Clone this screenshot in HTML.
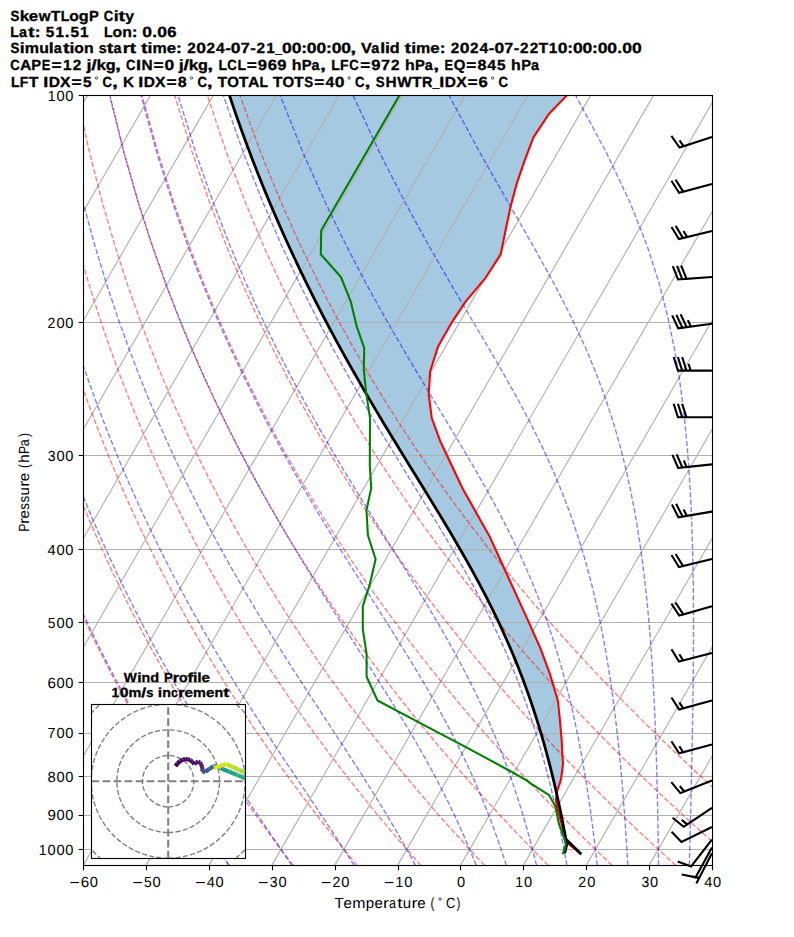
<!DOCTYPE html><html><head><meta charset="utf-8"><style>html,body{margin:0;padding:0;background:#fff;}svg{display:block;}text{font-family:"Liberation Sans",sans-serif;}</style></head><body>
<svg width="794" height="937" viewBox="0 0 794 937">
<rect width="794" height="937" fill="#fff"/>
<defs><clipPath id="ax"><rect x="83.15" y="95.37" width="628.8" height="770"/></clipPath></defs>
<g clip-path="url(#ax)">
<polygon points="229.56,95.62 234.55,110.37 239.08,123.37 243.67,136.12 248.38,148.87 253.23,161.62 258.22,174.37 263.35,187.12 268.72,200.12 274.13,212.87 279.67,225.62 285.37,238.37 291.2,251.12 297.18,263.87 303.31,276.62 309.58,289.37 316.12,302.37 326.08,321.62 332.73,334.12 339.64,346.87 350.48,366.37 357.59,378.87 364.96,391.62 376.31,410.87 387.87,430.12 399.6,449.37 430.96,500.37 442.5,519.37 453.95,538.62 461.5,551.62 468.59,564.12 472.2,570.62 479.11,583.37 482.55,589.87 488.98,602.37 492.22,608.87 498.51,621.87 504.29,634.37 507.19,640.87 510.02,647.37 515.36,660.12 520.43,672.87 522.92,679.37 527.59,692.12 532.01,704.87 536.19,717.62 538.22,724.12 542.05,736.87 545.66,749.62 549.07,762.37 550.73,768.87 553.85,781.62 556.74,794.12 556.76,794.12 557.33,790.62 560.79,780.12 562.28,770.12 563,763.12 562.31,754.37 561.71,740.62 559.81,719.12 557.91,700.87 552.51,682.62 549.52,672.87 540.4,648.37 528.39,621.37 489.91,537.12 462.66,488.62 439.97,440.62 431.68,417.87 428.71,393.62 430.23,371.12 438.07,346.37 452.29,321.62 465.79,301.37 485.54,277.87 500.71,254.37 505.48,230.62 510.71,205.87 516.65,183.87 524.48,160.87 533.42,137.37 548.92,113.87 566.68,95.62" fill="#1f77b4" fill-opacity="0.4" stroke="none"/>
<path d="M-357.01 865.37L87.55 95.37M-294.13 865.37L150.43 95.37M-231.25 865.37L213.31 95.37M-168.37 865.37L276.19 95.37M-105.49 865.37L339.07 95.37M-42.61 865.37L401.95 95.37M20.27 865.37L464.83 95.37M83.15 865.37L527.71 95.37M146.03 865.37L590.59 95.37M208.91 865.37L653.47 95.37M271.79 865.37L716.35 95.37M334.67 865.37L779.23 95.37M397.55 865.37L842.11 95.37M460.43 865.37L904.99 95.37M523.31 865.37L967.87 95.37M586.19 865.37L1030.75 95.37M649.07 865.37L1093.63 95.37M711.95 865.37L1156.51 95.37M83.15 95.5H711.95M83.15 322.5H711.95M83.15 455.5H711.95M83.15 549.5H711.95M83.15 622.5H711.95M83.15 682.5H711.95M83.15 733.5H711.95M83.15 776.5H711.95M83.15 815.5H711.95M83.15 849.5H711.95" stroke="#b0b0b0" stroke-width="1.11" fill="none"/>
<g fill="none" stroke="#ff0000" stroke-opacity="0.5" stroke-width="1.39" stroke-dasharray="5.139 2.222"><polyline points="229.49,865.37 225.12,859.27 220.71,853.05 216.25,846.71 211.76,840.24 207.22,833.65 202.64,826.92 198.02,820.05 193.35,813.03 188.63,805.86 183.86,798.52 179.04,791.02 174.17,783.35 169.25,775.48 164.28,767.43 159.25,759.17 154.16,750.7 149.01,742 143.8,733.07 138.54,723.89 133.2,714.44 127.8,704.71 122.34,694.68 116.8,684.33 111.19,673.65 105.51,662.61 99.75,651.18 93.91,639.34 87.99,627.05 81.98,614.29 75.89,601.01 69.72,587.16 63.44,572.71 57.08,557.59 50.62,541.73 44.06,525.07 37.41,507.51 30.65,488.96 23.79,469.3 16.84,448.38 9.79,426.03 2.65,402.04 -4.56,376.16 -11.83,348.05 -19.14,317.3 -26.43,283.37 -33.65,245.5 -40.67,202.68 -47.31,153.4 -53.24,95.37"/><polyline points="293.25,865.37 288.54,859.27 283.79,853.05 278.99,846.71 274.14,840.24 269.25,833.65 264.3,826.92 259.31,820.05 254.26,813.03 249.16,805.86 244.01,798.52 238.8,791.02 233.53,783.35 228.2,775.48 222.82,767.43 217.37,759.17 211.85,750.7 206.27,742 200.62,733.07 194.89,723.89 189.1,714.44 183.23,704.71 177.28,694.68 171.25,684.33 165.13,673.65 158.93,662.61 152.64,651.18 146.26,639.34 139.78,627.05 133.2,614.29 126.52,601.01 119.74,587.16 112.84,572.71 105.83,557.59 98.7,541.73 91.45,525.07 84.07,507.51 76.56,488.96 68.93,469.3 61.16,448.38 53.25,426.03 45.21,402.04 37.05,376.16 28.77,348.05 20.39,317.3 11.94,283.37 3.48,245.5 -4.9,202.68 -13.05,153.4 -20.67,95.37"/><polyline points="357.02,865.37 351.97,859.27 346.87,853.05 341.72,846.71 336.52,840.24 331.27,833.65 325.96,826.92 320.6,820.05 315.18,813.03 309.7,805.86 304.16,798.52 298.56,791.02 292.89,783.35 287.16,775.48 281.36,767.43 275.49,759.17 269.54,750.7 263.52,742 257.43,733.07 251.25,723.89 244.99,714.44 238.65,704.71 232.22,694.68 225.69,684.33 219.07,673.65 212.36,662.61 205.54,651.18 198.61,639.34 191.57,627.05 184.42,614.29 177.15,601.01 169.76,587.16 162.23,572.71 154.57,557.59 146.77,541.73 138.83,525.07 130.73,507.51 122.48,488.96 114.06,469.3 105.47,448.38 96.71,426.03 87.77,402.04 78.66,376.16 69.37,348.05 59.91,317.3 50.31,283.37 40.61,245.5 30.86,202.68 21.21,153.4 11.9,95.37"/><polyline points="420.78,865.37 415.39,859.27 409.95,853.05 404.45,846.71 398.9,840.24 393.29,833.65 387.62,826.92 381.89,820.05 376.09,813.03 370.24,805.86 364.31,798.52 358.31,791.02 352.25,783.35 346.11,775.48 339.9,767.43 333.61,759.17 327.23,750.7 320.78,742 314.24,733.07 307.61,723.89 300.89,714.44 294.07,704.71 287.16,694.68 280.14,684.33 273.01,673.65 265.78,662.61 258.43,651.18 250.96,639.34 243.37,627.05 235.64,614.29 227.78,601.01 219.78,587.16 211.63,572.71 203.32,557.59 194.85,541.73 186.21,525.07 177.39,507.51 168.39,488.96 159.19,469.3 149.79,448.38 140.17,426.03 130.33,402.04 120.27,376.16 109.97,348.05 99.44,317.3 88.69,283.37 77.73,245.5 66.63,202.68 55.47,153.4 44.46,95.37"/><polyline points="484.54,865.37 478.81,859.27 473.03,853.05 467.19,846.71 461.28,840.24 455.31,833.65 449.28,826.92 443.18,820.05 437.01,813.03 430.77,805.86 424.46,798.52 418.07,791.02 411.61,783.35 405.06,775.48 398.44,767.43 391.73,759.17 384.93,750.7 378.03,742 371.05,733.07 363.97,723.89 356.78,714.44 349.49,704.71 342.1,694.68 334.58,684.33 326.96,673.65 319.2,662.61 311.32,651.18 303.31,639.34 295.16,627.05 286.86,614.29 278.41,601.01 269.8,587.16 261.02,572.71 252.07,557.59 242.93,541.73 233.59,525.07 224.06,507.51 214.3,488.96 204.32,469.3 194.1,448.38 183.63,426.03 172.89,402.04 161.88,376.16 150.57,348.05 138.97,317.3 127.06,283.37 114.86,245.5 102.39,202.68 89.73,153.4 77.03,95.37"/><polyline points="548.3,865.37 542.24,859.27 536.11,853.05 529.92,846.71 523.66,840.24 517.33,833.65 510.94,826.92 504.47,820.05 497.93,813.03 491.31,805.86 484.61,798.52 477.83,791.02 470.97,783.35 464.02,775.48 456.98,767.43 449.85,759.17 442.62,750.7 435.29,742 427.86,733.07 420.33,723.89 412.68,714.44 404.92,704.71 397.04,694.68 389.03,684.33 380.9,673.65 372.63,662.61 364.22,651.18 355.66,639.34 346.95,627.05 338.08,614.29 329.04,601.01 319.82,587.16 310.41,572.71 300.81,557.59 291,541.73 280.98,525.07 270.72,507.51 260.22,488.96 249.46,469.3 238.42,448.38 227.09,426.03 215.45,402.04 203.49,376.16 191.17,348.05 178.49,317.3 165.43,283.37 151.99,245.5 138.16,202.68 123.99,153.4 109.6,95.37"/><polyline points="612.07,865.37 605.66,859.27 599.19,853.05 592.65,846.71 586.04,840.24 579.36,833.65 572.6,826.92 565.76,820.05 558.84,813.03 551.84,805.86 544.76,798.52 537.59,791.02 530.33,783.35 522.97,775.48 515.52,767.43 507.97,759.17 500.31,750.7 492.55,742 484.67,733.07 476.68,723.89 468.57,714.44 460.34,704.71 451.98,694.68 443.48,684.33 434.84,673.65 426.05,662.61 417.11,651.18 408.01,639.34 398.74,627.05 389.3,614.29 379.66,601.01 369.84,587.16 359.81,572.71 349.56,557.59 339.08,541.73 328.36,525.07 317.38,507.51 306.13,488.96 294.59,469.3 282.74,448.38 270.55,426.03 258.01,402.04 245.1,376.16 231.78,348.05 218.02,317.3 203.81,283.37 189.11,245.5 173.92,202.68 158.25,153.4 142.17,95.37"/><polyline points="675.83,865.37 669.09,859.27 662.27,853.05 655.39,846.71 648.42,840.24 641.38,833.65 634.26,826.92 627.05,820.05 619.76,813.03 612.38,805.86 604.91,798.52 597.35,791.02 589.68,783.35 581.92,775.48 574.06,767.43 566.09,759.17 558,750.7 549.8,742 541.48,733.07 533.04,723.89 524.47,714.44 515.76,704.71 506.92,694.68 497.92,684.33 488.78,673.65 479.48,662.61 470.01,651.18 460.36,639.34 450.53,627.05 440.51,614.29 430.29,601.01 419.86,587.16 409.2,572.71 398.3,557.59 387.16,541.73 375.74,525.07 364.04,507.51 352.04,488.96 339.72,469.3 327.05,448.38 314.01,426.03 300.57,402.04 286.71,376.16 272.38,348.05 257.55,317.3 242.18,283.37 226.24,245.5 209.69,202.68 192.51,153.4 174.74,95.37"/><polyline points="739.59,865.37 732.51,859.27 725.35,853.05 718.12,846.71 710.8,840.24 703.4,833.65 695.92,826.92 688.34,820.05 680.68,813.03 672.92,805.86 665.06,798.52 657.1,791.02 649.04,783.35 640.88,775.48 632.6,767.43 624.21,759.17 615.69,750.7 607.06,742 598.3,733.07 589.4,723.89 580.36,714.44 571.19,704.71 561.86,694.68 552.37,684.33 542.72,673.65 532.9,662.61 522.9,651.18 512.71,639.34 502.33,627.05 491.73,614.29 480.92,601.01 469.88,587.16 458.59,572.71 447.05,557.59 435.23,541.73 423.12,525.07 410.71,507.51 397.96,488.96 384.85,469.3 371.37,448.38 357.47,426.03 343.13,402.04 328.32,376.16 312.98,348.05 297.07,317.3 280.56,283.37 263.37,245.5 245.45,202.68 226.77,153.4 207.31,95.37"/><polyline points="803.35,865.37 795.93,859.27 788.43,853.05 780.85,846.71 773.18,840.24 765.42,833.65 757.57,826.92 749.63,820.05 741.59,813.03 733.45,805.86 725.21,798.52 716.86,791.02 708.4,783.35 699.83,775.48 691.14,767.43 682.33,759.17 673.39,750.7 664.31,742 655.11,733.07 645.76,723.89 636.26,714.44 626.61,704.71 616.8,694.68 606.82,684.33 596.66,673.65 586.32,662.61 575.79,651.18 565.06,639.34 554.12,627.05 542.95,614.29 531.55,601.01 519.9,587.16 507.99,572.71 495.8,557.59 483.31,541.73 470.51,525.07 457.37,507.51 443.87,488.96 429.98,469.3 415.68,448.38 400.93,426.03 385.69,402.04 369.93,376.16 353.58,348.05 336.6,317.3 318.93,283.37 300.49,245.5 281.22,202.68 261.03,153.4 239.87,95.37"/></g>
<g fill="none" stroke="#0000ff" stroke-opacity="0.5" stroke-width="1.39" stroke-dasharray="5.139 2.222"><polyline points="228.92,865.37 224.79,859.27 220.59,853.05 216.34,846.71 212.02,840.24 207.65,833.65 203.22,826.92 198.73,820.05 194.18,813.03 189.56,805.86 184.89,798.52 180.16,791.02 175.36,783.35 170.51,775.48 165.59,767.43 160.6,759.17 155.55,750.7 150.44,742 145.26,733.07 140.01,723.89 134.69,714.44 129.3,704.71 123.84,694.68 118.31,684.33 112.7,673.65 107.01,662.61 101.24,651.18 95.4,639.34 89.47,627.05 83.45,614.29 77.35,601.01 71.15,587.16 64.86,572.71 58.48,557.59 52,541.73 45.43,525.07 38.75,507.51 31.97,488.96 25.09,469.3 18.12,448.38 11.04,426.03 3.88,402.04 -3.36,376.16 -10.66,348.05 -18,317.3 -25.33,283.37 -32.58,245.5 -39.64,202.68 -46.32,153.4 -52.3,95.37"/><polyline points="291.89,865.37 287.74,859.27 283.5,853.05 279.19,846.71 274.79,840.24 270.31,833.65 265.75,826.92 261.1,820.05 256.38,813.03 251.56,805.86 246.67,798.52 241.69,791.02 236.63,783.35 231.49,775.48 226.26,767.43 220.94,759.17 215.55,750.7 210.06,742 204.49,733.07 198.84,723.89 193.09,714.44 187.26,704.71 181.34,694.68 175.32,684.33 169.21,673.65 163.01,662.61 156.71,651.18 150.31,639.34 143.81,627.05 137.2,614.29 130.49,601.01 123.66,587.16 116.72,572.71 109.66,557.59 102.49,541.73 95.18,525.07 87.75,507.51 80.19,488.96 72.49,469.3 64.65,448.38 56.68,426.03 48.57,402.04 40.33,376.16 31.97,348.05 23.51,317.3 14.97,283.37 6.41,245.5 -2.08,202.68 -10.34,153.4 -18.1,95.37"/><polyline points="354.13,865.37 350.25,859.27 346.25,853.05 342.15,846.71 337.94,840.24 333.62,833.65 329.18,826.92 324.63,820.05 319.97,813.03 315.18,805.86 310.28,798.52 305.26,791.02 300.12,783.35 294.87,775.48 289.49,767.43 283.99,759.17 278.38,750.7 272.65,742 266.79,733.07 260.82,723.89 254.73,714.44 248.51,704.71 242.18,694.68 235.73,684.33 229.15,673.65 222.45,662.61 215.63,651.18 208.68,639.34 201.6,627.05 194.39,614.29 187.05,601.01 179.57,587.16 171.95,572.71 164.18,557.59 156.26,541.73 148.19,525.07 139.96,507.51 131.56,488.96 122.99,469.3 114.25,448.38 105.32,426.03 96.2,402.04 86.9,376.16 77.41,348.05 67.74,317.3 57.91,283.37 47.96,245.5 37.94,202.68 28,153.4 18.35,95.37"/><polyline points="415.48,865.37 412.2,859.27 408.8,853.05 405.27,846.71 401.62,840.24 397.84,833.65 393.91,826.92 389.85,820.05 385.63,813.03 381.27,805.86 376.75,798.52 372.08,791.02 367.24,783.35 362.24,775.48 357.07,767.43 351.73,759.17 346.22,750.7 340.54,742 334.68,733.07 328.64,723.89 322.43,714.44 316.04,704.71 309.48,694.68 302.73,684.33 295.82,673.65 288.72,662.61 281.46,651.18 274.01,639.34 266.39,627.05 258.59,614.29 250.62,601.01 242.46,587.16 234.12,572.71 225.59,557.59 216.87,541.73 207.96,525.07 198.84,507.51 189.52,488.96 179.97,469.3 170.2,448.38 160.2,426.03 149.95,402.04 139.45,376.16 128.69,348.05 117.66,317.3 106.38,283.37 94.85,245.5 83.11,202.68 71.26,153.4 59.48,95.37"/><polyline points="476.12,865.37 473.69,859.27 471.17,853.05 468.53,846.71 465.78,840.24 462.9,833.65 459.89,826.92 456.75,820.05 453.46,813.03 450.02,805.86 446.41,798.52 442.64,791.02 438.68,783.35 434.54,775.48 430.19,767.43 425.64,759.17 420.87,750.7 415.88,742 410.65,733.07 405.17,723.89 399.45,714.44 393.46,704.71 387.21,694.68 380.7,684.33 373.9,673.65 366.84,662.61 359.49,651.18 351.87,639.34 343.96,627.05 335.78,614.29 327.32,601.01 318.59,587.16 309.58,572.71 300.29,557.59 290.73,541.73 280.9,525.07 270.78,507.51 260.38,488.96 249.7,469.3 238.71,448.38 227.41,426.03 215.79,402.04 203.83,376.16 191.51,348.05 178.83,317.3 165.76,283.37 152.3,245.5 138.46,202.68 124.28,153.4 109.88,95.37"/><polyline points="506.32,865.37 504.36,859.27 502.32,853.05 500.18,846.71 497.95,840.24 495.61,833.65 493.16,826.92 490.59,820.05 487.88,813.03 485.05,805.86 482.06,798.52 478.92,791.02 475.62,783.35 472.13,775.48 468.46,767.43 464.58,759.17 460.49,750.7 456.17,742 451.61,733.07 446.79,723.89 441.7,714.44 436.32,704.71 430.64,694.68 424.65,684.33 418.34,673.65 411.69,662.61 404.69,651.18 397.34,639.34 389.63,627.05 381.55,614.29 373.11,601.01 364.3,587.16 355.13,572.71 345.6,557.59 335.7,541.73 325.45,525.07 314.85,507.51 303.88,488.96 292.56,469.3 280.87,448.38 268.81,426.03 256.37,402.04 243.53,376.16 230.26,348.05 216.56,317.3 202.4,283.37 187.75,245.5 172.61,202.68 156.99,153.4 140.97,95.37"/><polyline points="536.53,865.37 535.04,859.27 533.47,853.05 531.84,846.71 530.12,840.24 528.32,833.65 526.44,826.92 524.45,820.05 522.37,813.03 520.17,805.86 517.85,798.52 515.41,791.02 512.82,783.35 510.09,775.48 507.19,767.43 504.12,759.17 500.86,750.7 497.4,742 493.71,733.07 489.78,723.89 485.6,714.44 481.13,704.71 476.37,694.68 471.29,684.33 465.85,673.65 460.05,662.61 453.86,651.18 447.25,639.34 440.21,627.05 432.71,614.29 424.75,601.01 416.29,587.16 407.35,572.71 397.9,557.59 387.96,541.73 377.51,525.07 366.58,507.51 355.15,488.96 343.24,469.3 330.85,448.38 317.98,426.03 304.63,402.04 290.78,376.16 276.42,348.05 261.52,317.3 246.05,283.37 229.99,245.5 213.31,202.68 195.98,153.4 178.04,95.37"/><polyline points="566.82,865.37 565.76,859.27 564.64,853.05 563.48,846.71 562.25,840.24 560.97,833.65 559.62,826.92 558.2,820.05 556.71,813.03 555.13,805.86 553.47,798.52 551.71,791.02 549.85,783.35 547.87,775.48 545.77,767.43 543.54,759.17 541.16,750.7 538.62,742 535.91,733.07 533,723.89 529.88,714.44 526.54,704.71 522.93,694.68 519.05,684.33 514.85,673.65 510.32,662.61 505.41,651.18 500.1,639.34 494.33,627.05 488.08,614.29 481.29,601.01 473.94,587.16 465.98,572.71 457.37,557.59 448.08,541.73 438.1,525.07 427.4,507.51 415.98,488.96 403.84,469.3 390.99,448.38 377.44,426.03 363.2,402.04 348.29,376.16 332.69,348.05 316.4,317.3 299.39,283.37 281.62,245.5 263.05,202.68 243.64,153.4 223.34,95.37"/><polyline points="597.24,865.37 596.56,859.27 595.84,853.05 595.1,846.71 594.31,840.24 593.49,833.65 592.63,826.92 591.72,820.05 590.76,813.03 589.74,805.86 588.67,798.52 587.54,791.02 586.33,783.35 585.06,775.48 583.7,767.43 582.25,759.17 580.7,750.7 579.04,742 577.26,733.07 575.35,723.89 573.29,714.44 571.07,704.71 568.67,694.68 566.06,684.33 563.23,673.65 560.14,662.61 556.77,651.18 553.07,639.34 549.01,627.05 544.54,614.29 539.6,601.01 534.14,587.16 528.09,572.71 521.37,557.59 513.91,541.73 505.63,525.07 496.44,507.51 486.27,488.96 475.06,469.3 462.76,448.38 449.36,426.03 434.83,402.04 419.22,376.16 402.53,348.05 384.8,317.3 366.04,283.37 346.24,245.5 325.37,202.68 303.36,153.4 280.12,95.37"/><polyline points="627.79,865.37 627.44,859.27 627.07,853.05 626.69,846.71 626.29,840.24 625.86,833.65 625.41,826.92 624.94,820.05 624.43,813.03 623.9,805.86 623.34,798.52 622.74,791.02 622.1,783.35 621.41,775.48 620.68,767.43 619.9,759.17 619.07,750.7 618.17,742 617.2,733.07 616.15,723.89 615.01,714.44 613.78,704.71 612.44,694.68 610.98,684.33 609.38,673.65 607.63,662.61 605.7,651.18 603.56,639.34 601.2,627.05 598.56,614.29 595.62,601.01 592.32,587.16 588.61,572.71 584.4,557.59 579.62,541.73 574.17,525.07 567.93,507.51 560.75,488.96 552.48,469.3 542.94,448.38 531.94,426.03 519.32,402.04 504.92,376.16 488.65,348.05 470.49,317.3 450.49,283.37 428.71,245.5 405.21,202.68 380.02,153.4 353.07,95.37"/><polyline points="658.49,865.37 658.42,859.27 658.34,853.05 658.26,846.71 658.17,840.24 658.07,833.65 657.96,826.92 657.84,820.05 657.72,813.03 657.58,805.86 657.43,798.52 657.26,791.02 657.08,783.35 656.88,775.48 656.66,767.43 656.42,759.17 656.16,750.7 655.86,742 655.54,733.07 655.18,723.89 654.78,714.44 654.34,704.71 653.85,694.68 653.3,684.33 652.69,673.65 652,662.61 651.22,651.18 650.35,639.34 649.36,627.05 648.24,614.29 646.96,601.01 645.5,587.16 643.83,572.71 641.89,557.59 639.64,541.73 637.01,525.07 633.93,507.51 630.28,488.96 625.94,469.3 620.72,448.38 614.41,426.03 606.71,402.04 597.27,376.16 585.64,348.05 571.34,317.3 553.88,283.37 532.91,245.5 508.34,202.68 480.32,153.4 449.07,95.37"/><polyline points="689.34,865.37 689.49,859.27 689.64,853.05 689.8,846.71 689.96,840.24 690.13,833.65 690.29,826.92 690.46,820.05 690.63,813.03 690.8,805.86 690.98,798.52 691.15,791.02 691.33,783.35 691.51,775.48 691.68,767.43 691.86,759.17 692.03,750.7 692.21,742 692.38,733.07 692.54,723.89 692.7,714.44 692.86,704.71 693,694.68 693.13,684.33 693.25,673.65 693.35,662.61 693.42,651.18 693.47,639.34 693.49,627.05 693.47,614.29 693.4,601.01 693.27,587.16 693.06,572.71 692.77,557.59 692.36,541.73 691.82,525.07 691.1,507.51 690.15,488.96 688.93,469.3 687.34,448.38 685.27,426.03 682.57,402.04 679.01,376.16 674.27,348.05 667.88,317.3 659.15,283.37 647.05,245.5 630.15,202.68 606.78,153.4 575.62,95.37"/><polyline points="720.31,865.37 720.64,859.27 720.97,853.05 721.32,846.71 721.68,840.24 722.05,833.65 722.42,826.92 722.81,820.05 723.21,813.03 723.62,805.86 724.05,798.52 724.48,791.02 724.93,783.35 725.39,775.48 725.87,767.43 726.35,759.17 726.86,750.7 727.38,742 727.91,733.07 728.46,723.89 729.03,714.44 729.62,704.71 730.22,694.68 730.84,684.33 731.48,673.65 732.13,662.61 732.81,651.18 733.51,639.34 734.22,627.05 734.96,614.29 735.71,601.01 736.48,587.16 737.26,572.71 738.06,557.59 738.86,541.73 739.67,525.07 740.48,507.51 741.27,488.96 742.03,469.3 742.74,448.38 743.37,426.03 743.86,402.04 744.17,376.16 744.17,348.05 743.72,317.3 742.55,283.37 740.22,245.5 735.98,202.68 728.39,153.4 714.65,95.37"/><polyline points="751.39,865.37 751.86,859.27 752.33,853.05 752.82,846.71 753.33,840.24 753.85,833.65 754.39,826.92 754.94,820.05 755.51,813.03 756.1,805.86 756.71,798.52 757.33,791.02 757.98,783.35 758.65,775.48 759.34,767.43 760.06,759.17 760.8,750.7 761.57,742 762.37,733.07 763.2,723.89 764.05,714.44 764.95,704.71 765.87,694.68 766.83,684.33 767.84,673.65 768.88,662.61 769.97,651.18 771.11,639.34 772.3,627.05 773.54,614.29 774.84,601.01 776.2,587.16 777.63,572.71 779.13,557.59 780.71,541.73 782.38,525.07 784.13,507.51 785.99,488.96 787.94,469.3 790.02,448.38 792.21,426.03 794.54,402.04 797,376.16 799.6,348.05 802.34,317.3 805.19,283.37 808.1,245.5 810.95,202.68 813.48,153.4 815.05,95.37"/><polyline points="782.57,865.37 783.13,859.27 783.71,853.05 784.31,846.71 784.92,840.24 785.55,833.65 786.2,826.92 786.88,820.05 787.57,813.03 788.29,805.86 789.03,798.52 789.79,791.02 790.58,783.35 791.4,775.48 792.25,767.43 793.12,759.17 794.03,750.7 794.98,742 795.96,733.07 796.98,723.89 798.04,714.44 799.14,704.71 800.29,694.68 801.49,684.33 802.74,673.65 804.04,662.61 805.41,651.18 806.84,639.34 808.34,627.05 809.92,614.29 811.58,601.01 813.33,587.16 815.17,572.71 817.13,557.59 819.2,541.73 821.4,525.07 823.74,507.51 826.24,488.96 828.92,469.3 831.8,448.38 834.91,426.03 838.28,402.04 841.95,376.16 845.96,348.05 850.38,317.3 855.28,283.37 860.76,245.5 866.93,202.68 873.96,153.4 882.04,95.37"/></g>
<polyline points="566.7,95.6 548.97,113.8 533.4,137.4 524.5,160.8 516.7,183.7 510.7,205.9 505.5,230.5 500.7,254.4 485.6,277.8 465.9,301.2 452.3,321.6 438,346.5 430.2,371.2 428.7,393.8 431.7,418 440,440.7 449.1,460 462.7,488.7 476.3,512.9 489.9,537.1 504.9,570 528.4,621.4 540.5,648.6 549.5,672.8 552.5,682.6 557.9,700.8 559.8,719 561.7,740.5 562.3,754.3 563,763.1 562.3,770 560.8,780.1 557.3,790.7 555.8,800.2 558.3,812.3 562.3,826.4 566.1,841.9 580.3,853.3" fill="none" stroke="#ff0000" stroke-width="2.08" stroke-linejoin="round" stroke-linecap="square"/>
<polyline points="580.27,853.3 578.24,851.3 576.2,849.3 574.15,847.27 572.1,845.24 570.03,843.19 567.97,841.14 565.89,839.06 564.7,832.67 563.47,826.28 562.21,819.89 560.91,813.5 559.58,807.11 558.2,800.72 556.79,794.33 555.34,787.94 553.84,781.55 552.3,775.16 550.71,768.77 549.07,762.37 547.39,755.98 545.66,749.59 543.87,743.2 542.04,736.81 540.14,730.42 538.2,724.03 536.19,717.64 534.13,711.25 532.01,704.86 529.82,698.47 527.58,692.08 525.27,685.69 522.89,679.3 520.45,672.91 517.94,666.51 515.36,660.12 512.72,653.73 510.01,647.34 507.23,640.95 504.37,634.56 501.45,628.17 498.47,621.78 495.41,615.39 492.29,609 489.1,602.61 485.84,596.22 482.52,589.83 479.15,583.44 475.71,577.05 472.22,570.65 468.67,564.26 465.07,557.87 461.42,551.48 457.73,545.09 454,538.7 450.23,532.31 446.43,525.92 442.59,519.53 438.73,513.14 434.85,506.75 430.95,500.36 427.04,493.97 423.11,487.58 419.18,481.19 415.24,474.79 411.3,468.4 407.37,462.01 403.44,455.62 399.52,449.23 395.61,442.84 391.71,436.45 387.83,430.06 383.97,423.67 380.13,417.28 376.32,410.89 372.52,404.5 368.76,398.11 365.02,391.72 361.31,385.33 357.63,378.93 353.98,372.54 350.36,366.15 346.77,359.76 343.22,353.37 339.7,346.98 336.22,340.59 332.77,334.2 329.35,327.81 325.98,321.42 322.63,315.03 319.33,308.64 316.06,302.25 312.82,295.86 309.62,289.47 306.46,283.07 303.34,276.68 300.25,270.29 297.2,263.9 294.18,257.51 291.2,251.12 288.26,244.73 285.35,238.34 282.48,231.95 279.65,225.56 276.85,219.17 274.09,212.78 271.36,206.39 268.67,200 266.01,193.61 263.39,187.21 260.8,180.82 258.25,174.43 255.73,168.04 253.25,161.65 250.8,155.26 248.38,148.87 246,142.48 243.65,136.09 241.34,129.7 239.06,123.31 236.81,116.92 234.6,110.53 232.42,104.14 230.27,97.75 228.15,91.35 226.07,84.96 224.02,78.57" fill="none" stroke="#000" stroke-width="2.78" stroke-linejoin="round" stroke-linecap="square"/>
<polyline points="565,851.8 567.2,843" fill="none" stroke="#000" stroke-width="2.78" stroke-linejoin="round" stroke-linecap="square"/>
<polyline points="399.2,95.7 321.2,230.4 320.8,254.3 340.9,277 350.8,301.7 356.5,325.8 364.2,347.9 363.8,370 366.2,393.1 370,418.1 369.8,465 371.2,488.1 366.5,510.2 367.9,535.2 375.6,559.2 369.8,584.2 363.1,605.4 362.8,605.8 362.8,629.4 366.6,653.8 366.6,676.8 377.5,700.5 412.7,719.1 420.2,723.2 464.5,746.3 512.8,772.5 527,780.6 530.1,783.1 549.2,795.2 555.3,806.3 558.8,823.4 564.3,838.5 565.8,844.6 563,853.3" fill="none" stroke="#008000" stroke-width="2.08" stroke-linejoin="round" stroke-linecap="square"/>
</g>
<rect x="83.5" y="95.5" width="629" height="770" fill="none" stroke="#000" stroke-width="1.11"/>
<path d="M83.5 865.5v4.86M146.5 865.5v4.86M209.5 865.5v4.86M272.5 865.5v4.86M335.5 865.5v4.86M398.5 865.5v4.86M460.5 865.5v4.86M523.5 865.5v4.86M586.5 865.5v4.86M649.5 865.5v4.86M712.5 865.5v4.86M83.5 95.5h-4.86M83.5 322.5h-4.86M83.5 455.5h-4.86M83.5 549.5h-4.86M83.5 622.5h-4.86M83.5 682.5h-4.86M83.5 733.5h-4.86M83.5 776.5h-4.86M83.5 815.5h-4.86M83.5 849.5h-4.86" stroke="#000" stroke-width="1.11" fill="none"/>
<g fill="#000" stroke="#000" stroke-width="2.08" stroke-linejoin="miter"><polygon points="711.95,137.1 679.57,147.58 671.34,135.94 679.57,147.58 683.62,146.27 679.5,140.45 683.62,146.27 711.95,137.1"/><polygon points="711.95,184 679.07,192.78 671.45,180.73 679.07,192.78 683.18,191.68 675.56,179.63 683.18,191.68 711.95,184"/><polygon points="711.95,231 678.91,239.12 671.53,226.92 678.91,239.12 683.04,238.11 675.66,225.9 683.04,238.11 687.17,237.09 683.48,230.99 687.17,237.09 711.95,231"/><polygon points="711.95,277 678.01,279.45 672.79,266.18 678.01,279.45 682.25,279.14 677.03,265.87 682.25,279.14 686.5,278.84 681.27,265.57 686.5,278.84 711.95,277"/><polygon points="711.95,323.7 678.24,328.33 672.17,315.42 678.24,328.33 682.45,327.75 676.39,314.84 682.45,327.75 686.67,327.17 680.6,314.26 686.67,327.17 690.88,326.59 687.85,320.14 690.88,326.59 711.95,323.7"/><polygon points="711.95,370.6 677.92,370.6 673.67,356.99 677.92,370.6 682.18,370.6 677.92,356.99 682.18,370.6 686.43,370.6 682.18,356.99 686.43,370.6 690.68,370.6 688.56,363.79 690.68,370.6 711.95,370.6"/><polygon points="711.95,417.3 677.92,417.3 673.67,403.69 677.92,417.3 682.18,417.3 677.92,403.69 682.18,417.3 686.43,417.3 682.18,403.69 686.43,417.3 711.95,417.3"/><polygon points="711.95,464.4 678.11,467.96 672.46,454.87 678.11,467.96 682.34,467.51 676.69,454.42 682.34,467.51 686.57,467.07 683.74,460.52 686.57,467.07 711.95,464.4"/><polygon points="711.95,511.6 678.39,517.25 671.94,504.53 678.39,517.25 682.59,516.54 676.13,503.83 682.59,516.54 686.78,515.84 683.56,509.48 686.78,515.84 711.95,511.6"/><polygon points="711.95,558.9 678.94,567.16 671.51,554.99 678.94,567.16 683.07,566.13 675.64,553.96 683.07,566.13 711.95,558.9"/><polygon points="711.95,606.2 679.24,615.59 671.4,603.68 679.24,615.59 683.33,614.42 675.49,602.51 683.33,614.42 711.95,606.2"/><polygon points="711.95,653.1 678.96,661.44 671.5,649.28 678.96,661.44 683.08,660.4 679.35,654.32 683.08,660.4 711.95,653.1"/><polygon points="711.95,700.5 679.12,709.45 671.44,697.44 679.12,709.45 683.22,708.33 679.38,702.32 683.22,708.33 711.95,700.5"/><polygon points="711.95,744.6 679.07,753.36 671.45,741.3 679.07,753.36 683.18,752.27 679.37,746.24 683.18,752.27 711.95,744.6"/><polygon points="711.95,780.5 680.34,793.1 671.35,782.04 680.34,793.1 684.29,791.53 679.8,785.99 684.29,791.53 711.95,780.5"/><polygon points="711.95,807.8 683.68,826.75 672.57,817.81 683.68,826.75 687.22,824.38 681.66,819.91 687.22,824.38 711.95,807.8"/><polygon points="711.95,827 681.41,842 671.59,831.66 681.41,842 711.95,827"/><polygon points="711.95,839.6 691.1,866.49 677.74,861.52 691.1,866.49 711.95,839.6"/><polygon points="711.95,847.4 695.65,877.27 681.66,874.48 695.65,877.27 711.95,847.4"/><polygon points="711.95,853.3 696.33,883.53 699.26,877.86 692.24,876.63 699.26,877.86 711.95,853.3"/></g>
<defs><clipPath id="hc"><rect x="91.5" y="704.5" width="154" height="154"/></clipPath></defs><rect x="91.5" y="704.5" width="154" height="154" fill="#fff"/><g clip-path="url(#hc)"><g fill="none" stroke="#808080" stroke-width="1.39" stroke-dasharray="5.139 2.222"><path d="M168.2 806.87A25.67 25.67 0 0 0 193.87 781.2A25.67 25.67 0 0 0 168.2 755.53A25.67 25.67 0 0 0 142.53 781.2A25.67 25.67 0 0 0 168.2 806.87"/><path d="M168.2 832.53A51.33 51.33 0 0 0 219.53 781.2A51.33 51.33 0 0 0 168.2 729.87A51.33 51.33 0 0 0 116.87 781.2A51.33 51.33 0 0 0 168.2 832.53"/><path d="M168.2 858.2A77 77 0 0 0 245.2 781.2A77 77 0 0 0 168.2 704.2A77 77 0 0 0 91.2 781.2A77 77 0 0 0 168.2 858.2"/><path d="M168.2 883.87A102.67 102.67 0 0 0 270.87 781.2A102.67 102.67 0 0 0 168.2 678.53A102.67 102.67 0 0 0 65.53 781.2A102.67 102.67 0 0 0 168.2 883.87"/></g><g fill="none" stroke="#808080" stroke-width="2.08" stroke-dasharray="7.708 3.333"><path d="M91.5 781.2H245.5"/><path d="M168.2 858.5V704.5"/></g><g fill="none" stroke-width="4.17" stroke-linecap="butt"><path d="M175.5 766.1L177.6 763.4" stroke="#440154"/><path d="M177.6 763.4L180.1 761.1" stroke="#440256"/><path d="M180.1 761.1L182.6 759.8" stroke="#450457"/><path d="M182.6 759.8L185.1 759.1" stroke="#450559"/><path d="M185.1 759.1L187.7 759.3" stroke="#46085c"/><path d="M187.7 759.3L190.2 760.1" stroke="#460a5d"/><path d="M190.2 760.1L192.4 761.8" stroke="#460b5e"/><path d="M192.4 761.8L194.2 764.1" stroke="#470d60"/><path d="M194.2 764.1L196.2 762.6" stroke="#471063"/><path d="M196.2 762.6L198.2 761.6" stroke="#471164"/><path d="M198.2 761.6L200 762.4" stroke="#471365"/><path d="M200 762.4L201.2 764.1" stroke="#481769"/><path d="M201.2 764.1L202 766.8" stroke="#481a6c"/><path d="M202 766.8L202.7 769.6" stroke="#482173"/><path d="M202.7 769.6L202.2 771.7" stroke="#472a7a"/><path d="M202.2 771.7L205.3 771.7" stroke="#414487"/><path d="M205.3 771.7L209.3 769.1" stroke="#38588c"/><path d="M209.3 769.1L213.3 766.1" stroke="#2e6f8e"/><path d="M213.3 766.1L216.5 766.6" stroke="#26828e"/><path d="M216.5 766.6L220.4 768.1" stroke="#21918c"/><path d="M220.4 768.1L228.6 771.5" stroke="#1e9c89"/><path d="M228.6 771.5L236.8 774.9" stroke="#21a685"/><path d="M236.8 774.9L245.1 778.2" stroke="#29af7f"/><path d="M245.1 778.2L255 782.5" stroke="#37b878"/><path d="M255 782.5L255 777.2" stroke="#4ec36b"/><path d="M255 777.2L245.1 772.7" stroke="#95d840"/><path d="M245.1 772.7L238.9 769.8" stroke="#a2da37"/><path d="M238.9 769.8L232.6 767" stroke="#b5de2b"/><path d="M232.6 767L226.4 764.1" stroke="#c2df23"/><path d="M226.4 764.1L220.4 766.1" stroke="#d2e21b"/><path d="M220.4 766.1L214 768" stroke="#e5e419"/></g></g><rect x="91.5" y="704.5" width="154" height="154" fill="none" stroke="#000" stroke-width="1.11"/>
<g text-rendering="geometricPrecision">
<g font-size="14.72" font-weight="bold" fill="#000" stroke="#000" stroke-width="0.3"><text transform="matrix(0.906 0 0 1 10.52 20.9)">S</text><text transform="matrix(1.162 0 0 1 19.86 20.9)">k</text><text transform="matrix(1.147 0 0 1 28.68 20.9)">e</text><text transform="matrix(1.030 0 0 1 38.68 20.9)">w</text><text transform="matrix(1.077 0 0 1 50.84 20.9)">T</text><text transform="matrix(0.953 0 0 1 60.74 20.9)">L</text><text transform="matrix(1.065 0 0 1 69.22 20.9)">o</text><text transform="matrix(1.101 0 0 1 78.72 20.9)">g</text><text transform="matrix(1.001 0 0 1 88.97 20.9)">P</text><text transform="matrix(0.895 0 0 1 103.82 20.9)">C</text><text transform="matrix(1.202 0 0 1 113.77 20.9)">i</text><text transform="matrix(1.351 0 0 1 118.53 20.9)">t</text><text transform="matrix(1.080 0 0 1 125.26 20.9)">y</text></g>
<g font-size="14.72" font-weight="bold" fill="#000" stroke="#000" stroke-width="0.3"><text transform="matrix(0.953 0 0 1 10.21 36.9)">L</text><text transform="matrix(0.979 0 0 1 18.91 36.9)">a</text><text transform="matrix(1.351 0 0 1 28.05 36.9)">t</text><text transform="matrix(1.183 0 0 1 34.64 36.9)">:</text><text transform="matrix(1.041 0 0 1 45.76 36.9)">5</text><text transform="matrix(1.043 0 0 1 55.43 36.9)">1</text><text transform="matrix(1.176 0 0 1 64.74 36.9)">.</text><text transform="matrix(1.041 0 0 1 70.38 36.9)">5</text><text transform="matrix(1.043 0 0 1 80.05 36.9)">1</text><text transform="matrix(0.953 0 0 1 103.98 36.9)">L</text><text transform="matrix(1.065 0 0 1 112.49 36.9)">o</text><text transform="matrix(1.074 0 0 1 122.18 36.9)">n</text><text transform="matrix(1.183 0 0 1 131.83 36.9)">:</text><text transform="matrix(1.191 0 0 1 142.32 36.9)">0</text><text transform="matrix(1.176 0 0 1 152.26 36.9)">.</text><text transform="matrix(1.191 0 0 1 157.27 36.9)">0</text><text transform="matrix(1.133 0 0 1 167.23 36.9)">6</text></g>
<g font-size="14.72" font-weight="bold" fill="#000" stroke="#000" stroke-width="0.3"><text transform="matrix(0.906 0 0 1 10.52 52.8)">S</text><text transform="matrix(1.202 0 0 1 19.81 52.8)">i</text><text transform="matrix(1.091 0 0 1 24.72 52.8)">m</text><text transform="matrix(1.074 0 0 1 39.16 52.8)">u</text><text transform="matrix(1.202 0 0 1 48.84 52.8)">l</text><text transform="matrix(0.979 0 0 1 53.83 52.8)">a</text><text transform="matrix(1.351 0 0 1 62.94 52.8)">t</text><text transform="matrix(1.202 0 0 1 69.55 52.8)">i</text><text transform="matrix(1.065 0 0 1 74.35 52.8)">o</text><text transform="matrix(1.074 0 0 1 84.01 52.8)">n</text><text transform="matrix(0.975 0 0 1 98.78 52.8)">s</text><text transform="matrix(1.351 0 0 1 106.75 52.8)">t</text><text transform="matrix(0.979 0 0 1 113.6 52.8)">a</text><text transform="matrix(1.244 0 0 1 122.73 52.8)">r</text><text transform="matrix(1.351 0 0 1 129.54 52.8)">t</text><text transform="matrix(1.351 0 0 1 140.98 52.8)">t</text><text transform="matrix(1.202 0 0 1 147.59 52.8)">i</text><text transform="matrix(1.091 0 0 1 152.5 52.8)">m</text><text transform="matrix(1.147 0 0 1 166.77 52.8)">e</text><text transform="matrix(1.183 0 0 1 176.1 52.8)">:</text><text transform="matrix(1.039 0 0 1 187.15 52.8)">2</text><text transform="matrix(1.191 0 0 1 196.19 52.8)">0</text><text transform="matrix(1.039 0 0 1 206.42 52.8)">2</text><text transform="matrix(1.066 0 0 1 215.88 52.8)">4</text><text transform="matrix(1.140 0 0 1 225.22 52.8)">-</text><text transform="matrix(1.191 0 0 1 230.84 52.8)">0</text><text transform="matrix(1.105 0 0 1 240.74 52.8)">7</text><text transform="matrix(1.140 0 0 1 250.24 52.8)">-</text><text transform="matrix(1.039 0 0 1 256.46 52.8)">2</text><text transform="matrix(1.043 0 0 1 266.13 52.8)">1</text><text transform="matrix(0.821 0 0 1 275.28 52.8)">_</text><text transform="matrix(1.191 0 0 1 282.06 52.8)">0</text><text transform="matrix(1.191 0 0 1 291.69 52.8)">0</text><text transform="matrix(1.183 0 0 1 301.23 52.8)">:</text><text transform="matrix(1.191 0 0 1 306.86 52.8)">0</text><text transform="matrix(1.191 0 0 1 316.5 52.8)">0</text><text transform="matrix(1.183 0 0 1 326.04 52.8)">:</text><text transform="matrix(1.191 0 0 1 331.67 52.8)">0</text><text transform="matrix(1.191 0 0 1 341.31 52.8)">0</text><text transform="matrix(1.450 0 0 1 350.29 52.8)">,</text><text transform="matrix(1.104 0 0 1 361.01 52.8)">V</text><text transform="matrix(0.979 0 0 1 371.18 52.8)">a</text><text transform="matrix(1.202 0 0 1 380.28 52.8)">l</text><text transform="matrix(1.202 0 0 1 385.03 52.8)">i</text><text transform="matrix(1.099 0 0 1 389.81 52.8)">d</text><text transform="matrix(1.351 0 0 1 404.52 52.8)">t</text><text transform="matrix(1.202 0 0 1 411.13 52.8)">i</text><text transform="matrix(1.091 0 0 1 416.04 52.8)">m</text><text transform="matrix(1.147 0 0 1 430.31 52.8)">e</text><text transform="matrix(1.183 0 0 1 439.64 52.8)">:</text><text transform="matrix(1.039 0 0 1 450.69 52.8)">2</text><text transform="matrix(1.191 0 0 1 459.73 52.8)">0</text><text transform="matrix(1.039 0 0 1 469.96 52.8)">2</text><text transform="matrix(1.066 0 0 1 479.42 52.8)">4</text><text transform="matrix(1.140 0 0 1 488.76 52.8)">-</text><text transform="matrix(1.191 0 0 1 494.38 52.8)">0</text><text transform="matrix(1.105 0 0 1 504.28 52.8)">7</text><text transform="matrix(1.140 0 0 1 513.78 52.8)">-</text><text transform="matrix(1.039 0 0 1 520 52.8)">2</text><text transform="matrix(1.039 0 0 1 529.63 52.8)">2</text><text transform="matrix(1.077 0 0 1 538.59 52.8)">T</text><text transform="matrix(1.043 0 0 1 548.75 52.8)">1</text><text transform="matrix(1.191 0 0 1 557.75 52.8)">0</text><text transform="matrix(1.183 0 0 1 567.29 52.8)">:</text><text transform="matrix(1.191 0 0 1 572.92 52.8)">0</text><text transform="matrix(1.191 0 0 1 582.56 52.8)">0</text><text transform="matrix(1.183 0 0 1 592.1 52.8)">:</text><text transform="matrix(1.191 0 0 1 597.73 52.8)">0</text><text transform="matrix(1.191 0 0 1 607.37 52.8)">0</text><text transform="matrix(1.176 0 0 1 617.27 52.8)">.</text><text transform="matrix(1.191 0 0 1 622.26 52.8)">0</text><text transform="matrix(1.191 0 0 1 631.9 52.8)">0</text></g>
<g font-size="14.72" font-weight="bold" fill="#000" stroke="#000" stroke-width="0.3"><text transform="matrix(0.895 0 0 1 10.26 69.6)">C</text><text transform="matrix(1.075 0 0 1 19.99 69.6)">A</text><text transform="matrix(1.001 0 0 1 31.36 69.6)">P</text><text transform="matrix(0.871 0 0 1 41.68 69.6)">E</text><text transform="matrix(1.178 0 0 1 51.52 69.6)">=</text><text transform="matrix(1.043 0 0 1 63.02 69.6)">1</text><text transform="matrix(1.039 0 0 1 72.66 69.6)">2</text><text transform="matrix(1.235 0 0 1 86.43 69.6)">j</text><text transform="matrix(1.334 0 0 1 91.19 69.6)">/</text><text transform="matrix(1.162 0 0 1 96.43 69.6)">k</text><text transform="matrix(1.101 0 0 1 105.66 69.6)">g</text><text transform="matrix(1.450 0 0 1 114.98 69.6)">,</text><text transform="matrix(0.895 0 0 1 125.93 69.6)">C</text><text transform="matrix(1.232 0 0 1 136.05 69.6)">I</text><text transform="matrix(1.049 0 0 1 141.4 69.6)">N</text><text transform="matrix(1.178 0 0 1 153.55 69.6)">=</text><text transform="matrix(1.191 0 0 1 164.42 69.6)">0</text><text transform="matrix(1.235 0 0 1 178.79 69.6)">j</text><text transform="matrix(1.334 0 0 1 183.54 69.6)">/</text><text transform="matrix(1.162 0 0 1 188.79 69.6)">k</text><text transform="matrix(1.101 0 0 1 198.02 69.6)">g</text><text transform="matrix(1.450 0 0 1 207.34 69.6)">,</text><text transform="matrix(0.953 0 0 1 218.48 69.6)">L</text><text transform="matrix(0.895 0 0 1 227.15 69.6)">C</text><text transform="matrix(0.953 0 0 1 237.54 69.6)">L</text><text transform="matrix(1.178 0 0 1 246.82 69.6)">=</text><text transform="matrix(1.130 0 0 1 257.86 69.6)">9</text><text transform="matrix(1.133 0 0 1 267.65 69.6)">6</text><text transform="matrix(1.130 0 0 1 277.21 69.6)">9</text><text transform="matrix(1.083 0 0 1 291.64 69.6)">h</text><text transform="matrix(1.001 0 0 1 301.78 69.6)">P</text><text transform="matrix(0.979 0 0 1 311.49 69.6)">a</text><text transform="matrix(1.450 0 0 1 320.02 69.6)">,</text><text transform="matrix(0.953 0 0 1 331.16 69.6)">L</text><text transform="matrix(0.944 0 0 1 340.03 69.6)">F</text><text transform="matrix(0.895 0 0 1 349.33 69.6)">C</text><text transform="matrix(1.178 0 0 1 360.14 69.6)">=</text><text transform="matrix(1.130 0 0 1 371.18 69.6)">9</text><text transform="matrix(1.105 0 0 1 380.95 69.6)">7</text><text transform="matrix(1.039 0 0 1 390.96 69.6)">2</text><text transform="matrix(1.083 0 0 1 404.96 69.6)">h</text><text transform="matrix(1.001 0 0 1 415.1 69.6)">P</text><text transform="matrix(0.979 0 0 1 424.81 69.6)">a</text><text transform="matrix(1.450 0 0 1 433.34 69.6)">,</text><text transform="matrix(0.871 0 0 1 444.56 69.6)">E</text><text transform="matrix(1.019 0 0 1 453.72 69.6)">Q</text><text transform="matrix(1.178 0 0 1 466.21 69.6)">=</text><text transform="matrix(1.095 0 0 1 477.45 69.6)">8</text><text transform="matrix(1.066 0 0 1 487.18 69.6)">4</text><text transform="matrix(1.041 0 0 1 497.07 69.6)">5</text><text transform="matrix(1.083 0 0 1 511.04 69.6)">h</text><text transform="matrix(1.001 0 0 1 521.17 69.6)">P</text><text transform="matrix(0.979 0 0 1 530.88 69.6)">a</text></g>
<g font-size="14.72" font-weight="bold" fill="#000" stroke="#000" stroke-width="0.3"><text transform="matrix(0.953 0 0 1 10.96 86.9)">L</text><text transform="matrix(0.944 0 0 1 19.82 86.9)">F</text><text transform="matrix(1.077 0 0 1 28.85 86.9)">T</text><text transform="matrix(1.232 0 0 1 43.33 86.9)">I</text><text transform="matrix(1.056 0 0 1 48.67 86.9)">D</text><text transform="matrix(1.064 0 0 1 60.09 86.9)">X</text><text transform="matrix(1.178 0 0 1 71.43 86.9)">=</text><text transform="matrix(1.041 0 0 1 82.91 86.9)">5</text><text transform="matrix(0.895 0 0 1 102.51 86.9)">C</text><text transform="matrix(1.450 0 0 1 111.88 86.9)">,</text><text transform="matrix(1.042 0 0 1 122.91 86.9)">K</text><text transform="matrix(1.232 0 0 1 138.32 86.9)">I</text><text transform="matrix(1.056 0 0 1 143.66 86.9)">D</text><text transform="matrix(1.064 0 0 1 155.08 86.9)">X</text><text transform="matrix(1.178 0 0 1 166.42 86.9)">=</text><text transform="matrix(1.095 0 0 1 177.64 86.9)">8</text><text transform="matrix(0.895 0 0 1 197.5 86.9)">C</text><text transform="matrix(1.450 0 0 1 206.87 86.9)">,</text><text transform="matrix(1.077 0 0 1 217.54 86.9)">T</text><text transform="matrix(1.019 0 0 1 227.2 86.9)">O</text><text transform="matrix(1.077 0 0 1 238.82 86.9)">T</text><text transform="matrix(1.075 0 0 1 248.08 86.9)">A</text><text transform="matrix(0.953 0 0 1 259.49 86.9)">L</text><text transform="matrix(1.077 0 0 1 272.73 86.9)">T</text><text transform="matrix(1.019 0 0 1 282.39 86.9)">O</text><text transform="matrix(1.077 0 0 1 294.01 86.9)">T</text><text transform="matrix(0.906 0 0 1 304.21 86.9)">S</text><text transform="matrix(1.178 0 0 1 314.35 86.9)">=</text><text transform="matrix(1.066 0 0 1 325.62 86.9)">4</text><text transform="matrix(1.191 0 0 1 334.87 86.9)">0</text><text transform="matrix(0.895 0 0 1 355.1 86.9)">C</text><text transform="matrix(1.450 0 0 1 364.46 86.9)">,</text><text transform="matrix(0.906 0 0 1 375.86 86.9)">S</text><text transform="matrix(1.049 0 0 1 385.49 86.9)">H</text><text transform="matrix(1.044 0 0 1 397.27 86.9)">W</text><text transform="matrix(1.077 0 0 1 412.08 86.9)">T</text><text transform="matrix(0.979 0 0 1 421.98 86.9)">R</text><text transform="matrix(0.821 0 0 1 432.48 86.9)">_</text><text transform="matrix(1.232 0 0 1 439.37 86.9)">I</text><text transform="matrix(1.056 0 0 1 444.71 86.9)">D</text><text transform="matrix(1.064 0 0 1 456.13 86.9)">X</text><text transform="matrix(1.178 0 0 1 467.46 86.9)">=</text><text transform="matrix(1.133 0 0 1 478.6 86.9)">6</text><text transform="matrix(0.895 0 0 1 498.55 86.9)">C</text></g><circle cx="96.54" cy="78.04" r="1.2" fill="none" stroke="#000" stroke-width="0.66"/><circle cx="191.53" cy="78.04" r="1.2" fill="none" stroke="#000" stroke-width="0.66"/><circle cx="349.13" cy="78.04" r="1.2" fill="none" stroke="#000" stroke-width="0.66"/><circle cx="492.58" cy="78.04" r="1.2" fill="none" stroke="#000" stroke-width="0.66"/>
<g font-size="14.72" font-weight="normal" fill="#000"><text transform="matrix(0.950 0 0 1 47.67 100.77)">1</text><text transform="matrix(0.995 0 0 1 56.39 100.77)">0</text><text transform="matrix(0.995 0 0 1 65.23 100.77)">0</text></g>
<g font-size="14.72" font-weight="normal" fill="#000"><text transform="matrix(0.959 0 0 1 47.52 327.75)">2</text><text transform="matrix(0.995 0 0 1 56.39 327.75)">0</text><text transform="matrix(0.995 0 0 1 65.23 327.75)">0</text></g>
<g font-size="14.72" font-weight="normal" fill="#000"><text transform="matrix(0.955 0 0 1 47.74 460.53)">3</text><text transform="matrix(0.995 0 0 1 56.39 460.53)">0</text><text transform="matrix(0.995 0 0 1 65.23 460.53)">0</text></g>
<g font-size="14.72" font-weight="normal" fill="#000"><text transform="matrix(0.995 0 0 1 47.55 554.74)">4</text><text transform="matrix(0.995 0 0 1 56.39 554.74)">0</text><text transform="matrix(0.995 0 0 1 65.23 554.74)">0</text></g>
<g font-size="14.72" font-weight="normal" fill="#000"><text transform="matrix(0.939 0 0 1 47.73 627.81)">5</text><text transform="matrix(0.995 0 0 1 56.39 627.81)">0</text><text transform="matrix(0.995 0 0 1 65.23 627.81)">0</text></g>
<g font-size="14.72" font-weight="normal" fill="#000"><text transform="matrix(1.030 0 0 1 47.41 687.51)">6</text><text transform="matrix(0.995 0 0 1 56.39 687.51)">0</text><text transform="matrix(0.995 0 0 1 65.23 687.51)">0</text></g>
<g font-size="14.72" font-weight="normal" fill="#000"><text transform="matrix(0.973 0 0 1 47.62 737.99)">7</text><text transform="matrix(0.995 0 0 1 56.39 737.99)">0</text><text transform="matrix(0.995 0 0 1 65.23 737.99)">0</text></g>
<g font-size="14.72" font-weight="normal" fill="#000"><text transform="matrix(1.006 0 0 1 47.51 781.72)">8</text><text transform="matrix(0.995 0 0 1 56.39 781.72)">0</text><text transform="matrix(0.995 0 0 1 65.23 781.72)">0</text></g>
<g font-size="14.72" font-weight="normal" fill="#000"><text transform="matrix(1.028 0 0 1 47.38 820.29)">9</text><text transform="matrix(0.995 0 0 1 56.39 820.29)">0</text><text transform="matrix(0.995 0 0 1 65.23 820.29)">0</text></g>
<g font-size="14.72" font-weight="normal" fill="#000"><text transform="matrix(0.950 0 0 1 38.84 854.79)">1</text><text transform="matrix(0.995 0 0 1 47.56 854.79)">0</text><text transform="matrix(0.995 0 0 1 56.39 854.79)">0</text><text transform="matrix(0.995 0 0 1 65.23 854.79)">0</text></g>
<g font-size="14.72" font-weight="normal" fill="#000"><text transform="matrix(1.030 0 0 1 80.76 886.9)">6</text><text transform="matrix(0.995 0 0 1 89.74 886.9)">0</text></g><rect x="70.39" y="881.97" width="8.69" height="1.15" fill="#000"/>
<g font-size="14.72" font-weight="normal" fill="#000"><text transform="matrix(0.939 0 0 1 143.96 886.9)">5</text><text transform="matrix(0.995 0 0 1 152.62 886.9)">0</text></g><rect x="133.27" y="881.97" width="8.69" height="1.15" fill="#000"/>
<g font-size="14.72" font-weight="normal" fill="#000"><text transform="matrix(0.995 0 0 1 206.66 886.9)">4</text><text transform="matrix(0.995 0 0 1 215.5 886.9)">0</text></g><rect x="196.15" y="881.97" width="8.69" height="1.15" fill="#000"/>
<g font-size="14.72" font-weight="normal" fill="#000"><text transform="matrix(0.955 0 0 1 269.72 886.9)">3</text><text transform="matrix(0.995 0 0 1 278.38 886.9)">0</text></g><rect x="259.03" y="881.97" width="8.69" height="1.15" fill="#000"/>
<g font-size="14.72" font-weight="normal" fill="#000"><text transform="matrix(0.959 0 0 1 332.39 886.9)">2</text><text transform="matrix(0.995 0 0 1 341.26 886.9)">0</text></g><rect x="321.91" y="881.97" width="8.69" height="1.15" fill="#000"/>
<g font-size="14.72" font-weight="normal" fill="#000"><text transform="matrix(0.950 0 0 1 395.42 886.9)">1</text><text transform="matrix(0.995 0 0 1 404.14 886.9)">0</text></g><rect x="384.79" y="881.97" width="8.69" height="1.15" fill="#000"/>
<g font-size="14.72" font-weight="normal" fill="#000"><text transform="matrix(0.995 0 0 1 457.06 886.9)">0</text></g>
<g font-size="14.72" font-weight="normal" fill="#000"><text transform="matrix(0.950 0 0 1 515.33 886.9)">1</text><text transform="matrix(0.995 0 0 1 524.05 886.9)">0</text></g>
<g font-size="14.72" font-weight="normal" fill="#000"><text transform="matrix(0.959 0 0 1 578.31 886.9)">2</text><text transform="matrix(0.995 0 0 1 587.19 886.9)">0</text></g>
<g font-size="14.72" font-weight="normal" fill="#000"><text transform="matrix(0.955 0 0 1 641.39 886.9)">3</text><text transform="matrix(0.995 0 0 1 650.05 886.9)">0</text></g>
<g font-size="14.72" font-weight="normal" fill="#000"><text transform="matrix(0.995 0 0 1 704.28 886.9)">4</text><text transform="matrix(0.995 0 0 1 713.12 886.9)">0</text></g>
<g transform="translate(28.9,532.2) rotate(-90)"><g font-size="14.72" font-weight="normal" fill="#000"><text transform="matrix(0.835 0 0 1 0.36 0)">P</text><text transform="matrix(1.209 0 0 1 8.21 0)">r</text><text transform="matrix(1.019 0 0 1 13.66 0)">e</text><text transform="matrix(0.905 0 0 1 22.46 0)">s</text><text transform="matrix(0.905 0 0 1 29.69 0)">s</text><text transform="matrix(1.018 0 0 1 36.75 0)">u</text><text transform="matrix(1.209 0 0 1 45.43 0)">r</text><text transform="matrix(1.019 0 0 1 50.88 0)">e</text><text transform="matrix(0.798 0 0 1 64.17 0)">(</text><text transform="matrix(1.025 0 0 1 69.34 0)">h</text><text transform="matrix(0.835 0 0 1 78.28 0)">P</text><text transform="matrix(0.849 0 0 1 85.98 0)">a</text><text transform="matrix(0.798 0 0 1 95.23 0)">)</text></g></g>
<g font-size="14.72" font-weight="normal" fill="#000"><text transform="matrix(1.029 0 0 1 334.62 907.9)">T</text><text transform="matrix(1.019 0 0 1 343.61 907.9)">e</text><text transform="matrix(1.075 0 0 1 352.24 907.9)">m</text><text transform="matrix(1.027 0 0 1 365.85 907.9)">p</text><text transform="matrix(1.019 0 0 1 374.5 907.9)">e</text><text transform="matrix(1.209 0 0 1 383 907.9)">r</text><text transform="matrix(0.849 0 0 1 388.93 907.9)">a</text><text transform="matrix(1.261 0 0 1 397.23 907.9)">t</text><text transform="matrix(1.018 0 0 1 402.79 907.9)">u</text><text transform="matrix(1.209 0 0 1 411.47 907.9)">r</text><text transform="matrix(1.019 0 0 1 417.23 907.9)">e</text><text transform="matrix(0.798 0 0 1 430.52 907.9)">(</text><text transform="matrix(0.876 0 0 1 445.99 907.9)">C</text><text transform="matrix(0.798 0 0 1 456.61 907.9)">)</text></g><circle cx="440.05" cy="899.04" r="1.2" fill="none" stroke="#000" stroke-width="0.66"/>
<g font-size="13.24" font-weight="bold" fill="#000" stroke="#000" stroke-width="0.3"><text transform="matrix(1.044 0 0 1 123.79 682.4)">W</text><text transform="matrix(1.202 0 0 1 137.16 682.4)">i</text><text transform="matrix(1.074 0 0 1 141.61 682.4)">n</text><text transform="matrix(1.099 0 0 1 150.37 682.4)">d</text><text transform="matrix(1.001 0 0 1 163.96 682.4)">P</text><text transform="matrix(1.244 0 0 1 172.83 682.4)">r</text><text transform="matrix(1.065 0 0 1 179.01 682.4)">o</text><text transform="matrix(1.261 0 0 1 187.57 682.4)">f</text><text transform="matrix(1.202 0 0 1 192.99 682.4)">i</text><text transform="matrix(1.202 0 0 1 197.28 682.4)">l</text><text transform="matrix(1.147 0 0 1 201.57 682.4)">e</text></g>
<g font-size="13.24" font-weight="bold" fill="#000" stroke="#000" stroke-width="0.3"><text transform="matrix(1.043 0 0 1 111.53 697.4)">1</text><text transform="matrix(1.191 0 0 1 119.66 697.4)">0</text><text transform="matrix(1.091 0 0 1 128.47 697.4)">m</text><text transform="matrix(1.334 0 0 1 141.24 697.4)">/</text><text transform="matrix(0.975 0 0 1 146.17 697.4)">s</text><text transform="matrix(1.202 0 0 1 157.71 697.4)">i</text><text transform="matrix(1.074 0 0 1 162.16 697.4)">n</text><text transform="matrix(0.934 0 0 1 171 697.4)">c</text><text transform="matrix(1.244 0 0 1 178.32 697.4)">r</text><text transform="matrix(1.147 0 0 1 184.47 697.4)">e</text><text transform="matrix(1.091 0 0 1 193.09 697.4)">m</text><text transform="matrix(1.147 0 0 1 205.97 697.4)">e</text><text transform="matrix(1.074 0 0 1 214.62 697.4)">n</text><text transform="matrix(1.351 0 0 1 223.35 697.4)">t</text></g>
</g>
</svg></body></html>
